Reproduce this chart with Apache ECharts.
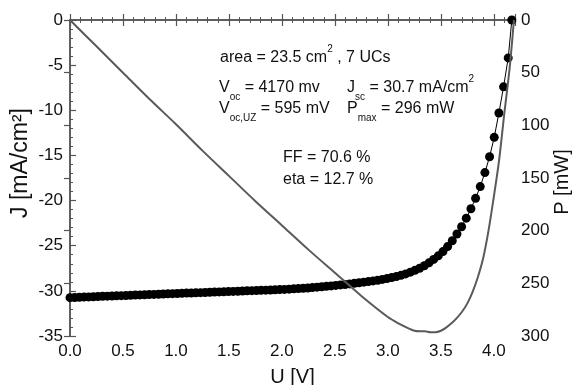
<!DOCTYPE html>
<html><head><meta charset="utf-8">
<script src="https://cdn.jsdelivr.net/npm/echarts@6/dist/echarts.min.js"></script>
<style>html,body{margin:0;padding:0;background:#fff}#c{width:576px;height:385px}</style>
</head><body><div id="c"></div>
<script>
// J-U curve (dots)
var uJ = [0,0.044,0.088,0.132,0.176,0.22,0.264,0.308,0.352,0.396,0.44,0.484,0.528,0.572,0.616,0.66,0.704,0.748,0.792,0.836,0.88,0.924,0.968,1.012,1.056,1.1,1.144,1.188,1.232,1.276,1.32,1.364,1.408,1.452,1.496,1.54,1.584,1.628,1.672,1.716,1.76,1.804,1.848,1.892,1.936,1.98,2.024,2.068,2.112,2.156,2.2,2.244,2.288,2.332,2.376,2.42,2.464,2.508,2.552,2.596,2.64,2.684,2.728,2.772,2.816,2.86,2.904,2.948,2.992,3.036,3.08,3.124,3.168,3.212,3.256,3.3,3.344,3.388,3.432,3.476,3.52,3.564,3.608,3.652,3.696,3.74,3.784,3.828,3.872,3.916,3.96,4.004,4.048,4.092,4.136,4.17];
var jVals = [-30.75,-30.73,-30.71,-30.69,-30.67,-30.65,-30.63,-30.61,-30.59,-30.57,-30.55,-30.53,-30.51,-30.49,-30.47,-30.45,-30.43,-30.41,-30.39,-30.37,-30.35,-30.33,-30.31,-30.29,-30.27,-30.25,-30.24,-30.22,-30.2,-30.18,-30.16,-30.14,-30.12,-30.1,-30.08,-30.06,-30.04,-30.02,-30,-29.98,-29.96,-29.94,-29.92,-29.9,-29.88,-29.86,-29.84,-29.81,-29.78,-29.75,-29.72,-29.68,-29.64,-29.59,-29.55,-29.5,-29.45,-29.4,-29.34,-29.29,-29.23,-29.17,-29.11,-29.04,-28.97,-28.9,-28.82,-28.73,-28.64,-28.53,-28.42,-28.28,-28.12,-27.93,-27.72,-27.5,-27.22,-26.9,-26.52,-26.12,-25.65,-25.1,-24.45,-23.7,-22.9,-21.95,-20.9,-19.75,-18.45,-16.9,-15.15,-13,-10.3,-7.4,-4.2,0];
// P-U curve (line)
var uP = [0,0.25,0.5,0.75,1.0,1.25,1.5,1.75,2.0,2.25,2.5,2.75,3.0,3.1,3.2,3.25,3.3,3.35,3.4,3.45,3.5,3.55,3.6,3.65,3.7,3.75,3.8,3.85,3.9,3.95,4.0,4.05,4.1,4.15,4.19];
var pVals = [0,25,50,75,99,124,148,172,195,218,240,262,282,288,293,295,295.5,295.5,296.5,296.5,295,292,288,283,277,269,258,244,226,200,168,133,88,45,0];
// tick labels / axis settings
var xTicks = {min:0, max:4.2, interval:0.5};
var jTicks = {min:-35, max:0, interval:5};
var pTicks = {min:0, max:300, interval:50};

var jData = uJ.map(function(u,i){return [u,jVals[i]];});
var pData = uP.map(function(u,i){return [u,pVals[i]];});

var axCol = '#555';
var font = 'Liberation Sans, Arial, sans-serif';
var lblStyle = {color:'#111', fontSize:17, fontFamily:font};
var nameStyle = {color:'#111', fontSize:20, fontFamily:font};

var chart = echarts.init(document.getElementById('c'), null, {renderer:'canvas'});
var base = {fontSize:16, fontFamily:font, color:'#111', verticalAlign:'middle', lineHeight:28};
var sub = {fontSize:10, fontFamily:font, color:'#111', verticalAlign:'bottom', lineHeight:17};
var sup = {fontSize:10, fontFamily:font, color:'#111', verticalAlign:'top', lineHeight:15};
function T(x,y,txt){
  return {type:'text', x:x, y:y, z:100, style:{text:txt, font:'16px '+font, fill:'#111', textAlign:'left', textVerticalAlign:'middle', rich:{b:base, s:sub, p:sup}}};
}
chart.setOption({
  animation:false,
  backgroundColor:'#fff',
  grid:{left:70, right:61, top:20, bottom:49, outerBoundsMode:'none', containLabel:false},
  xAxis:[{
    type:'value', position:'bottom', min:xTicks.min, max:xTicks.max, interval:xTicks.interval,
    name:'U [V]', nameLocation:'middle', nameGap:31, nameTextStyle:nameStyle,
    axisLine:{lineStyle:{color:axCol, width:1.5}},
    axisTick:{inside:true, length:6, lineStyle:{color:axCol, width:1.2}},
    minorTick:{show:true, splitNumber:5, length:3, lineStyle:{color:axCol, width:1}},
    axisLabel:Object.assign({formatter:function(v){return v.toFixed(1);}, margin:7, showMaxLabel:false}, lblStyle),
    splitLine:{show:false}
  },{
    type:'value', position:'top', min:xTicks.min, max:xTicks.max, interval:xTicks.interval,
    axisLine:{lineStyle:{color:axCol, width:1.5}},
    axisTick:{inside:true, length:6, lineStyle:{color:axCol, width:1.2}},
    minorTick:{show:true, splitNumber:5, length:3, lineStyle:{color:axCol, width:1}},
    axisLabel:{show:false}, splitLine:{show:false}
  }],
  yAxis:[{
    type:'value', position:'left', min:jTicks.min, max:jTicks.max, interval:jTicks.interval,
    axisLine:{lineStyle:{color:axCol, width:1.5}},
    axisTick:{inside:true, length:6, lineStyle:{color:axCol, width:1.2}},
    minorTick:{show:true, splitNumber:5, length:3, lineStyle:{color:axCol, width:1}},
    axisLabel:Object.assign({margin:7}, lblStyle),
    splitLine:{show:false}
  },{
    type:'value', position:'right', min:pTicks.min, max:pTicks.max, interval:pTicks.interval, inverse:true,
    axisLine:{lineStyle:{color:axCol, width:1.5}},
    axisTick:{inside:true, length:6, lineStyle:{color:axCol, width:1.2}},
    axisLabel:Object.assign({margin:6}, lblStyle),
    splitLine:{show:false}
  }],
  series:[{
    type:'line', xAxisIndex:0, yAxisIndex:0, data:jData,
    symbol:'circle', symbolSize:9, showSymbol:true,
    itemStyle:{color:'#000'}, lineStyle:{color:'#000', width:1}, z:2
  },{
    type:'line', xAxisIndex:0, yAxisIndex:1, data:pData, smooth:0.3,
    symbol:'none', lineStyle:{color:'#5a5a5a', width:2}, z:3
  }],
  graphic:[
    {type:'text', x:21, y:163, rotation:Math.PI/2, z:100,
     style:{text:'J [mA/cm²]', font:'23px '+font, fill:'#111', textAlign:'center', textVerticalAlign:'middle'}},
    {type:'text', x:562, y:182, rotation:Math.PI/2, z:100,
     style:{text:'P [mW]', font:'20px '+font, fill:'#111', textAlign:'center', textVerticalAlign:'middle'}},
    T(220,58,'{b|area = 23.5 cm}{p|2}{b| , 7 UCs}'),
    T(219,88,'{b|V}{s|oc}{b| = 4170 mv}'),
    T(347,88,'{b|J}{s|sc}{b| = 30.7 mA/cm}{p|2}'),
    T(219,109,'{b|V}{s|oc,UZ}{b| = 595 mV}'),
    T(347,109,'{b|P}{s|max}{b| = 296 mW}'),
    T(283,158,'{b|FF = 70.6 %}'),
    T(283,180,'{b|eta = 12.7 %}')
  ]
});
</script></body></html>
